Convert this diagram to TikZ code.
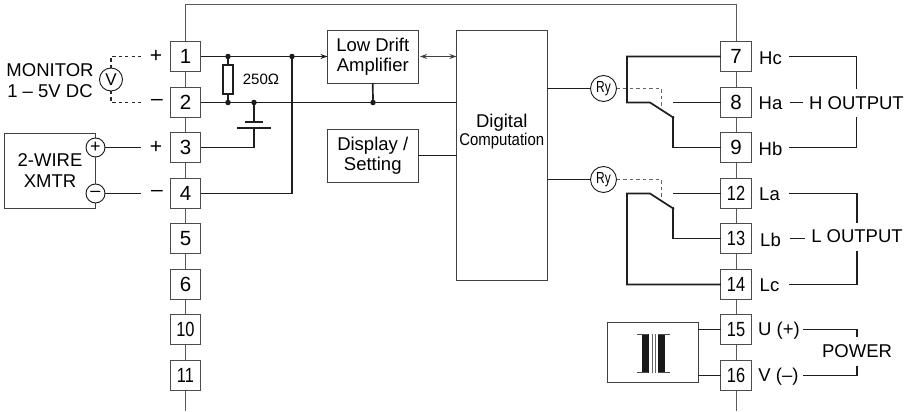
\documentclass[tikz,border=0pt]{standalone}
\usepackage{fontspec}
\usepackage{graphicx}
\setmainfont{Liberation Sans}
\usetikzlibrary{arrows.meta}
\newcommand{\narrow}[1]{\scalebox{.8}[1]{#1}}
\tikzset{
  term/.style={draw=black!70,line width=.9pt,fill=white,minimum size=30.5pt,inner sep=0pt,outer sep=0pt,font=\fontsize{20.5}{20.5}\selectfont},
  block/.style={draw=black!75,line width=.9pt,fill=white,inner sep=0pt,outer sep=0pt,align=center,font=\fontsize{18.5}{20.5}\selectfont},
  lbl/.style={inner sep=0pt,outer sep=0pt,align=center,font=\fontsize{18.5}{21}\selectfont},
  sign/.style={lbl,font=\fontsize{21}{21}\selectfont},
  outp/.style={lbl,inner xsep=6pt,minimum height=28pt},
  ring/.style={draw=black!90,line width=.9pt,circle,fill=white,inner sep=0pt,outer sep=0pt},
  dot/.style={circle,fill=black!90,inner sep=0pt,outer sep=0pt,minimum size=5.5pt},
  wire/.style={draw=black!88,line width=1.7pt},
  thinwire/.style={draw=black!75,line width=1pt},
  bus/.style={draw=black!65,line width=1pt},
  dash1/.style={draw=black!85,line width=1.2pt,dash pattern=on 3.2pt off 3.2pt},
  dash2/.style={draw=black!60,line width=.9pt,dash pattern=on 3.5pt off 3pt},
  >={Stealth[length=7pt,width=5pt]}
}
\begin{document}
\begin{tikzpicture}[x=1pt,y=-1pt]
  \useasboundingbox (0,0) rectangle (905,412);
  % terminals, left column
  \node[term] (t1) at (185.5,56.5) {1};
  \node[term] (t2) at (185.5,102.5) {2};
  \node[term] (t3) at (185.5,147.5) {3};
  \node[term] (t4) at (185.5,193.5) {4};
  \node[term] (t5) at (185.5,238.5) {5};
  \node[term] (t6) at (185.5,284.5) {6};
  \node[term] (t10) at (185.5,329.5) {\narrow{10}};
  \node[term] (t11) at (185.5,375.5) {\narrow{11}};
  % terminals, right column
  \node[term] (t7) at (736,56.5) {7};
  \node[term] (t8) at (736,102.5) {8};
  \node[term] (t9) at (736,147.5) {9};
  \node[term] (t12) at (736,193.5) {\narrow{12}};
  \node[term] (t13) at (736,238.5) {\narrow{13}};
  \node[term] (t14) at (736,284.5) {\narrow{14}};
  \node[term] (t15) at (736,329.5) {\narrow{15}};
  \node[term] (t16) at (736,375.5) {\narrow{16}};
  \coordinate (topl) at (185.5,4.5);
  \coordinate (topr) at (736,4.5);
  \coordinate (botl) at (185.5,411);
  \coordinate (botr) at (736,411);
  \draw[bus] (botl) -- (t11) -- (t10) -- (t6) -- (t5) -- (t4) -- (t3) -- (t2) -- (t1) -- (topl) -- (topr)
    -- (t7) -- (t8) -- (t9) -- (t12) -- (t13) -- (t14) -- (t15) -- (t16) -- (botr);
  % blocks
  \node[block,minimum width=90.5pt,minimum height=53pt] (amp) at (372.75,56.5) {Low Drift\\Amplifier};
  \node[block,minimum width=90.5pt,minimum height=53pt] (disp) at (372.75,155.5) {Display /\\Setting};
  \node[block,minimum width=90.5pt,minimum height=249.5pt] (dig) at (501.75,155.25) {};
  \node[lbl] (digl) at (501.75,131.5) {Digital\\[-2.5pt]{\fontsize{17}{17}\selectfont\scalebox{.88}[1]{Computation}}};
  \node[block,minimum width=90.5pt,minimum height=60pt] (trans) at (652.75,352) {};
  \node[block,minimum width=91pt,minimum height=75pt] (xmtr) at (50,170.5) {2-WIRE\\XMTR};
  % monitor
  \node[lbl] (mon) at (50,80.5) {MONITOR\\1 -- 5V DC};
  \node[ring,minimum size=23pt,font=\fontsize{17}{17}\selectfont] (volt) at (111,79.5) {V};
  \node[sign] (mp) at (156,56.5) {+};
  \node[sign] (mm) at (157,102.5) {--};
  \coordinate (mpe) at (141,56.5);
  \coordinate (mme) at (141,102.5);
  \draw[dash1] (volt) |- (mpe);
  \draw[dash1] (volt) |- (mme);
  % transmitter
  \node[ring,minimum size=19pt,font=\fontsize{18}{18}\selectfont] (xp) at (95.5,147.5) {+};
  \node[ring,minimum size=19pt,font=\fontsize{18}{18}\selectfont] (xm) at (95.5,193.5) {--};
  \node[sign] (tp) at (156,147.5) {+};
  \node[sign] (tm) at (157,193.5) {--};
  \coordinate (xpe) at (141,147.5);
  \coordinate (xme) at (141,193.5);
  \draw[thinwire] (xp) -- (xm);
  \draw[wire] (xp) -- (xpe);
  \draw[wire] (xm) -- (xme);
  % input wiring
  \node[dot] (j1) at (228,56.5) {};
  \node[dot] (j2) at (292,56.5) {};
  \node[dot] (j3) at (228,102.5) {};
  \node[dot] (j4) at (254,102.5) {};
  \node[dot] (j5) at (373,102.5) {};
  \node[draw=black!88,line width=1.2pt,fill=white,minimum width=10pt,minimum height=29pt,inner sep=0pt,outer sep=0pt] (res) at (228,79.5) {};
  \node[lbl,font=\fontsize{15}{15}\selectfont] (ohm) at (261,79.5) {250Ω};
  \draw[wire,->] (t1.east) -- (amp.west);
  \draw[wire] (t2.east) -- (t2 -| dig.west);
  \draw[wire] (j1) -- (res) -- (j3);
  \coordinate (capa) at (254,122);
  \coordinate (capb) at (254,128);
  \coordinate (capa1) at (245,122);
  \coordinate (capa2) at (263,122);
  \coordinate (capb1) at (237,128);
  \coordinate (capb2) at (271,128);
  \draw[wire] (j4) -- (capa);
  \draw[wire] (capa1) -- (capa2);
  \draw[wire] (capb1) -- (capb2);
  \draw[wire] (capb) |- (t3.east);
  \draw[wire] (t4.east) -| (j2);
  \draw[wire] (amp.south) -- (j5);
  \draw[wire] (disp.east) -- (disp -| dig.west);
  \draw[thinwire,<->] (amp.east) ++(2,0) -- (dig.west |- amp.east);
  % relays
  \node[ring,minimum size=26pt,font=\fontsize{16}{16}\selectfont] (ry1) at (603.5,88.5) {\scalebox{.75}[1]{Ry}};
  \node[ring,minimum size=26pt,font=\fontsize{16}{16}\selectfont] (ry2) at (603.5,179.5) {\scalebox{.75}[1]{Ry}};
  \draw[wire] (ry1 -| dig.east) -- (ry1);
  \draw[wire] (ry2 -| dig.east) -- (ry2);
  \coordinate (d1) at (661.5,88.5);
  \coordinate (d1e) at (661.5,110);
  \coordinate (d2) at (661.5,179.5);
  \coordinate (d2e) at (661.5,201);
  \draw[dash2] (ry1) -- (d1) -- (d1e);
  \draw[dash2] (ry2) -- (d2) -- (d2e);
  % H contacts
  \coordinate (hc) at (627,56.5);
  \coordinate (hp) at (627,102.5);
  \coordinate (hq) at (650,102.5);
  \coordinate (hr) at (674,118);
  \coordinate (hs) at (673,147.5);
  \coordinate (ha) at (673,102.5);
  \draw[wire] (t7.west) -- (hc) -- (hp) -- (hq) -- (hr);
  \draw[wire] (hs) -- (673,116);
  \draw[wire] (hs) -- (t9.west);
  \draw[wire] (ha) -- (t8.west);
  % L contacts
  \coordinate (lp) at (627,193.5);
  \coordinate (lq) at (650,193.5);
  \coordinate (lr) at (674,209);
  \coordinate (ls) at (673,238.5);
  \coordinate (la) at (673,193.5);
  \coordinate (lc) at (627,284.5);
  \draw[wire] (t14.west) -- (lc) -- (lp) -- (lq) -- (lr);
  \draw[wire] (673,207) -- (ls) -- (t13.west);
  \draw[wire] (la) -- (t12.west);
  % transformer
  \fill[black!90] (642,334) rectangle (648.5,372.5);
  \fill[black!90] (658,334) rectangle (664.5,372.5);
  \draw[black!70,line width=.8pt] (637,334) -- (648,334);
  \draw[black!70,line width=.8pt] (637,372.5) -- (648,372.5);
  \draw[black!70,line width=.8pt] (658,334) -- (670,334);
  \draw[black!70,line width=.8pt] (658,372.5) -- (670,372.5);
  \draw[black!60,line width=.6pt] (652.5,334) -- (652.5,372.5);
  \draw[black!60,line width=.6pt] (655,334) -- (655,372.5);
  \draw[wire] (t15.west) -- (t15 -| trans.east);
  \draw[wire] (t16.west) -- (t16 -| trans.east);
  % outputs
  \node[lbl] (lhc) at (770.5,58) {Hc};
  \node[lbl] (lha) at (770.5,103.5) {Ha};
  \node[lbl] (lhb) at (770.5,149) {Hb};
  \node[lbl] (lla) at (769.5,194.5) {La};
  \node[lbl] (llb) at (770.5,240) {Lb};
  \node[lbl] (llc) at (769.5,285) {Lc};
  \node[lbl] (lu) at (779,331) {U (+)};
  \node[lbl] (lv) at (778.5,376.5) {V (--)};
  \node[outp] (hout) at (856.5,103) {H OUTPUT};
  \node[outp] (lout) at (857,236.5) {L OUTPUT};
  \node[lbl,minimum height=29pt] (pow) at (857,351.5) {POWER};
  \coordinate (hce) at (789,56.5);
  \coordinate (hbe) at (789,147.5);
  \coordinate (hae) at (790,102.5);
  \coordinate (lae) at (789,193.5);
  \coordinate (lce) at (789,284.5);
  \coordinate (lbe) at (790,238.5);
  \coordinate (ue) at (803,329.5);
  \coordinate (ve) at (803,375.5);
  \draw[wire] (hce) -| (hout.north);
  \draw[wire] (hbe) -| (hout.south);
  \draw[wire] (hae) -- (hae -| hout.west);
  \draw[wire] (lae) -| (lout.north);
  \draw[wire] (lce) -| (lout.south);
  \draw[wire] (lbe) -- (lbe -| lout.west);
  \draw[wire] (ue) -| (pow.north);
  \draw[wire] (ve) -| (pow.south);
\end{tikzpicture}
\end{document}
